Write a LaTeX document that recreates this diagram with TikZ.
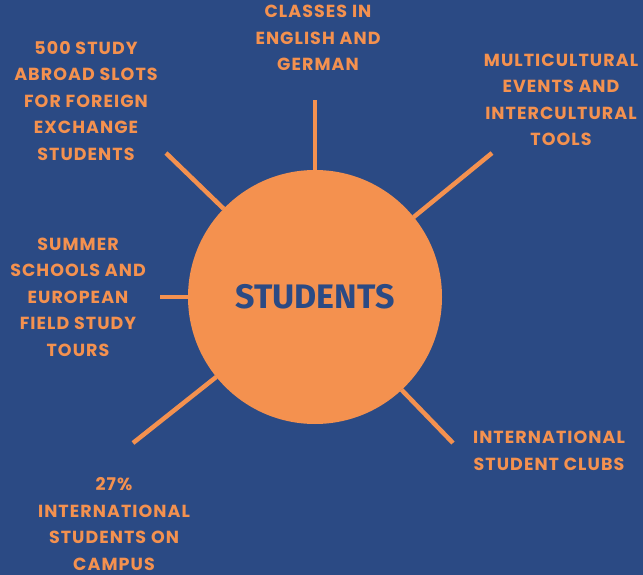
\documentclass[tikz,border=0pt]{standalone}
\usepackage{fontspec}
\newfontfamily\lblfont[LetterSpace=6]{Poppins}
\newfontfamily\hubfont{Fira Sans}
\usetikzlibrary{positioning}
\definecolor{navy}{HTML}{2B4A84}
\definecolor{peach}{HTML}{F4914F}

\begin{document}
\begin{tikzpicture}[x=1pt, y=-1pt,
    hub/.style={circle, fill=peach, minimum size=254pt, inner sep=0pt, outer sep=0pt,
      text=navy, font=\hubfont\bfseries\fontsize{34}{34}\selectfont},
    lbl/.style={align=center, text=peach, inner sep=0pt,
      font=\lblfont\bfseries\fontsize{17.5}{26.5}\selectfont},
    spoke/.style={draw=peach, line width=4.5pt}]
    \fill[navy] (0,0) rectangle (643,575);
    \useasboundingbox (0,0) rectangle (643,575);

    \node (students) [hub] at (315,297) {STUDENTS};

    \node (classes) [lbl] at (318,38) {CLASSES IN\\ENGLISH AND\\GERMAN};
    \node (abroad) [lbl] at (86,101) {500 STUDY\\ABROAD SLOTS\\FOR FOREIGN\\EXCHANGE\\STUDENTS};
    \node (events) [lbl] at (561,100) {MULTICULTURAL\\EVENTS AND\\INTERCULTURAL\\TOOLS};
    \node (summer) [lbl] at (78,297) {SUMMER\\SCHOOLS AND\\EUROPEAN\\FIELD STUDY\\TOURS};
    \node (intl) [lbl] at (114,524) {27\%\\INTERNATIONAL\\STUDENTS ON\\CAMPUS};
    \node (clubs) [lbl] at (549,451) {INTERNATIONAL\\STUDENT CLUBS};

    % free ends of the spokes
    \coordinate (classes-end) at (315,100);
    \coordinate (abroad-end) at (166,153);
    \coordinate (events-end) at (492,153);
    \coordinate (summer-end) at (160,297);
    \coordinate (intl-end) at (133,443);
    \coordinate (clubs-end) at (453,443);

    \draw[spoke] (students.90) -- (classes-end);
    \draw[spoke] (students.136) -- (abroad-end);
    \draw[spoke] (students.39) -- (events-end);
    \draw[spoke] (students.180) -- (summer-end);
    \draw[spoke] (students.219) -- (intl-end);
    \draw[spoke] (students.-47) -- (clubs-end);
\end{tikzpicture}
\end{document}
